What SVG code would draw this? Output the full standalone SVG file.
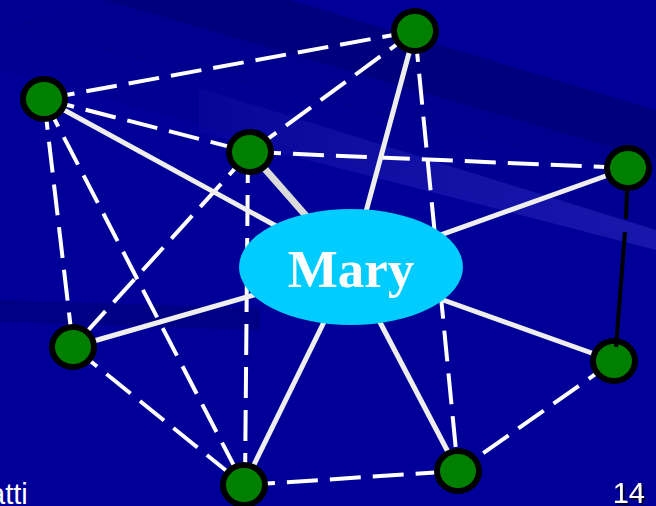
<svg xmlns="http://www.w3.org/2000/svg" width="656" height="506" viewBox="0 0 656 506">
  <defs>
    <linearGradient id="lightBand" x1="0" y1="0" x2="1" y2="0">
      <stop offset="0" stop-color="#3a3ad0" stop-opacity="0.08"/>
      <stop offset="0.35" stop-color="#3a3ad0" stop-opacity="0.25"/>
      <stop offset="1" stop-color="#3a3ad0" stop-opacity="0.4"/>
    </linearGradient>
    <filter id="shadow" x="-20%" y="-20%" width="140%" height="140%">
      <feDropShadow dx="2" dy="2" stdDeviation="0.5" flood-color="#000033" flood-opacity="1"/>
    </filter>
    <style>
      .dash { stroke: #ffffff; stroke-width: 4; stroke-dasharray: 31 12; fill: none; }
      .solid { stroke: #eeeeee; stroke-width: 5; fill: none; }
      .node { fill: #007f00; stroke: #000000; stroke-width: 6; }
      .lbl { font-family: "Liberation Sans", Arial, sans-serif; font-size: 29px; fill: #ffffff; }
    </style>
  </defs>

  <!-- background -->
  <rect x="0" y="0" width="656" height="506" fill="#000099"/>
  <polygon points="0,0 105,0 656,160 656,250 0,70" fill="#000090" opacity="0.6"/>
  <polygon points="105,0 290,0 656,110 656,160" fill="#00007f"/>
  <polygon points="0,27 105,0 656,160 656,180" fill="#000088" opacity="0.4"/>
  <polygon points="199,88 656,230 656,250 199,132" fill="url(#lightBand)"/>
  <polygon points="0,300 260,308 260,330 0,322" fill="#000085"/>

  <g id="connectors">
    <!-- dashed -->
    <line class="dash" x1="44" y1="99" x2="415" y2="31"/>
    <line class="dash" x1="44" y1="99" x2="250" y2="152"/>
    <line class="dash" x1="44" y1="99" x2="73" y2="347"/>
    <line class="dash" x1="44" y1="99" x2="244" y2="485"/>
    <line class="dash" x1="415" y1="31" x2="250" y2="152"/>
    <line class="dash" x1="415" y1="31" x2="458" y2="471"/>
    <line class="dash" x1="250" y1="152" x2="628" y2="168"/>
    <line class="dash" x1="250" y1="152" x2="73" y2="347"/>
    <line class="dash" x1="248" y1="152" x2="245" y2="485"/>
    <line class="dash" x1="73" y1="347" x2="244" y2="485"/>
    <line class="dash" x1="614" y1="361" x2="458" y2="471"/>
    <line class="dash" x1="244" y1="485" x2="458" y2="471"/>
    <!-- solid -->
    <line class="solid" x1="44" y1="99" x2="351" y2="267"/>
    <line class="solid" x1="250" y1="152" x2="351" y2="267" style="stroke:#dadada;stroke-width:7"/>
    <line class="solid" x1="415" y1="31" x2="351" y2="267"/>
    <line class="solid" x1="628" y1="168" x2="351" y2="267"/>
    <line class="solid" x1="73" y1="347" x2="351" y2="267"/>
    <line class="solid" x1="614" y1="361" x2="351" y2="267"/>
    <line class="solid" x1="244" y1="485" x2="351" y2="267"/>
    <line class="solid" x1="458" y1="471" x2="351" y2="267"/>
  </g>

  <g id="mary">
    <ellipse cx="351" cy="267" rx="112" ry="58" fill="#00ccff"/>
    <text x="351" y="287" text-anchor="middle" font-family="Liberation Serif, 'Times New Roman', serif" font-weight="bold" font-size="53" fill="#ffffff">Mary</text>
  </g>

  <g id="n-a"><ellipse class="node" cx="44" cy="99" rx="21" ry="20"/></g>
  <g id="n-top"><ellipse class="node" cx="415" cy="31" rx="21" ry="20"/></g>
  <g id="n-b"><ellipse class="node" cx="250" cy="152" rx="21" ry="20"/></g>
  <g id="n-r"><ellipse class="node" cx="628" cy="168" rx="21" ry="20"/></g>
  <g id="n-l"><ellipse class="node" cx="73" cy="347" rx="21" ry="20"/></g>
  <g id="n-br"><ellipse class="node" cx="614" cy="361" rx="21" ry="20"/></g>
  <g id="n-bottom"><ellipse class="node" cx="244" cy="485" rx="21" ry="20"/></g>
  <g id="n-bm"><ellipse class="node" cx="458" cy="471" rx="21" ry="20"/></g>

  <g id="black-link">
    <path d="M627,190 L626,219 M625,232 L616,347" stroke="#000000" stroke-width="4" fill="none"/>
  </g>

  <g id="footer">
    <text class="lbl" x="-11" y="504">atti</text>
    <text class="lbl" x="645" y="503" text-anchor="end" filter="url(#shadow)">14</text>
  </g>
</svg>
